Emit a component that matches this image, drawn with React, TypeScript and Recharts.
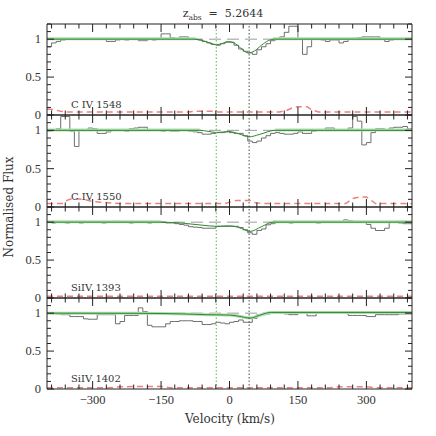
import React from 'react'
import { ComposedChart, Line, XAxis, YAxis, ReferenceLine } from 'recharts'

// flux is binned in 10 km/s steps starting at -400 km/s
const binStart = -400
const binWidth = 10

const civ1548Flux = [
  0.90, 0.95, 0.97, 0.99, 1.00, 1.01, 1.00, 1.01, 1.00, 1.01,
  1.01, 1.00, 1.01, 0.97, 0.97, 0.99, 1.00, 0.99, 1.01, 1.00,
  0.98, 0.98, 1.00, 0.99, 1.01, 1.07, 1.07, 1.02, 1.01, 1.03,
  1.03, 1.00, 1.00, 0.99, 0.97, 0.95, 0.93, 0.92, 0.94, 0.96,
  0.96, 0.92, 0.87, 0.84, 0.82, 0.80, 0.86, 0.90, 0.94, 0.98,
  1.00, 1.03, 1.09, 1.17, 1.17, 1.00, 0.80, 0.90, 1.00, 1.00,
  0.99, 0.97, 0.99, 0.99, 0.95, 0.97, 1.00, 1.01, 1.02, 1.03,
  1.03, 1.03, 1.03, 1.00, 0.97, 0.99, 1.00, 1.00, 1.00, 1.01,
]
const civ1550Flux = [
  0.99, 1.01, 1.02, 1.18, 1.18, 0.99, 0.79, 1.00, 1.01, 1.03,
  1.02, 0.96, 0.96, 0.98, 1.00, 1.01, 1.00, 0.99, 1.02, 1.03,
  1.04, 1.04, 1.00, 1.01, 1.00, 0.99, 1.00, 0.99, 0.99, 1.00,
  1.00, 0.99, 0.98, 0.97, 0.95, 0.95, 0.96, 0.97, 0.97, 0.98,
  0.97, 0.96, 0.96, 0.93, 0.86, 0.84, 0.86, 0.90, 0.93, 0.96,
  0.97, 0.96, 0.95, 0.95, 0.96, 0.98, 0.96, 0.96, 0.99, 1.00,
  1.01, 1.03, 1.03, 1.00, 1.00, 1.00, 1.03, 1.18, 1.12, 0.81,
  0.84, 0.97, 1.02, 1.02, 1.00, 1.03, 1.04, 1.04, 1.05, 1.02,
]
const siiv1393Flux = [
  1.00, 0.99, 1.00, 1.00, 0.99, 1.00, 1.00, 0.99, 1.00, 1.00,
  1.00, 1.00, 0.99, 1.00, 1.00, 1.01, 1.00, 1.00, 0.99, 1.00,
  1.00, 1.00, 0.99, 1.00, 1.00, 1.00, 0.99, 0.99, 0.98, 0.97,
  0.96, 0.94, 0.935, 0.93, 0.92, 0.92, 0.92, 0.945, 0.945, 0.945,
  0.945, 0.945, 0.93, 0.90, 0.86, 0.84, 0.89, 0.91, 0.965, 0.98,
  1.00, 1.00, 1.00, 0.99, 1.00, 1.00, 1.00, 1.00, 1.00, 0.99,
  1.00, 1.00, 1.00, 1.00, 1.00, 1.03, 1.02, 1.00, 1.00, 1.00,
  0.97, 0.92, 0.89, 0.89, 0.92, 1.00, 1.00, 0.99, 0.98, 0.98,
]
const siiv1402Flux = [
  1.00, 1.00, 0.99, 0.98, 0.98, 0.955, 0.955, 0.955, 0.925, 0.92,
  0.92, 0.98, 0.98, 0.98, 0.98, 0.86, 0.89, 0.97, 0.97, 0.97,
  1.07, 1.02, 0.84, 0.82, 0.82, 0.82, 0.86, 0.89, 0.89, 0.90,
  0.90, 0.90, 0.89, 0.89, 0.85, 0.85, 0.86, 0.88, 0.87, 0.86,
  0.88, 0.89, 0.91, 0.88, 0.88, 0.93, 0.98, 0.98, 0.99, 1.01,
  1.00, 1.00, 0.99, 0.98, 0.98, 1.00, 1.00, 0.965, 0.965, 1.00,
  1.00, 1.00, 1.00, 1.00, 1.00, 1.00, 0.97, 0.97, 0.97, 0.97,
  0.955, 0.955, 0.98, 0.98, 0.98, 0.98, 0.98, 0.99, 0.99, 0.99,
]

// voigt profile fits (knots)
const civ1548FitV = [-400, -80, -65, -50, -38, -28, -15, -3, 10, 25, 41, 55, 70, 85, 100, 400]
const civ1548Fit = [1, 1, 0.99, 0.965, 0.94, 0.926, 0.945, 0.968, 0.95, 0.88, 0.818, 0.845, 0.92, 0.98, 1, 1]
const civ1550FitV = [-400, -65, -45, -30, -15, -2, 20, 43, 65, 100, 400]
const civ1550Fit = [1, 1, 0.985, 0.972, 0.978, 0.985, 0.955, 0.915, 0.945, 1, 1]
const siiv1393FitV = [-400, -150, -100, -60, -28, 0, 20, 45, 70, 95, 400]
const siiv1393Fit = [1, 1, 0.985, 0.96, 0.945, 0.952, 0.93, 0.878, 0.94, 1, 1]
const siiv1402FitV = [-400, -200, -100, -50, 0, 20, 45, 65, 90, 400]
const siiv1402Fit = [1, 0.998, 0.99, 0.98, 0.975, 0.96, 0.935, 0.97, 1.01, 1.01]

// light continuum band (broken over the absorption)
const civ1548BandV = [-400, -75, -74, 95, 400]
const civ1548Band = [1.005, 1.005, null, 1.005, 1.005]
const civ1550BandV = [-400, -65, -64, 100, 400]
const civ1550Band = [1.005, 1.005, null, 1.005, 1.005]
const siiv1393BandV = [-400, -150, -149, 95, 400]
const siiv1393Band = [1.005, 1.005, null, 1.005, 1.005]

// 1 sigma error
const civ1548ErrV = [-400, -385, -370, -355, -90, -75, -40, -25, 110, 125, 140, 150, 170, 180, 195, 400]
const civ1548Err = [0.08, 0.07, 0.05, 0.04, 0.04, 0.05, 0.05, 0.04, 0.04, 0.06, 0.1, 0.11, 0.11, 0.07, 0.04, 0.04]
const civ1550ErrV = [-400, -365, -355, -345, -320, -300, -240, -10, 5, 15, 45, 55, 70, 255, 270, 285, 300, 310, 320, 400]
const civ1550Err = [0.045, 0.045, 0.09, 0.11, 0.1, 0.07, 0.045, 0.045, 0.07, 0.085, 0.085, 0.06, 0.045, 0.045, 0.11, 0.13, 0.13, 0.09, 0.045, 0.045]
const siiv1393ErrV = [-400, 400]
const siiv1393Err = [0.022, 0.022]
const siiv1402ErrV = [-400, -260, -240, -150, -130, 220, 240, 300, 320, 400]
const siiv1402Err = [0.015, 0.015, 0.03, 0.035, 0.015, 0.015, 0.03, 0.03, 0.015, 0.015]

const componentVel = [-29, 43]
const velTicks = [
  -390, -360, -330, -300, -270, -240, -210, -180, -150, -120, -90, -60, -30,
  0, 30, 60, 90, 120, 150, 180, 210, 240, 270, 300, 330, 360, 390,
]
const velMajor = [-300, -150, 0, 150, 300]
const fluxTicks = [0, 0.1, 0.2, 0.3, 0.4, 0.5, 0.6, 0.7, 0.8, 0.9, 1, 1.1, 1.2]
const fluxMajor = [0, 0.5, 1]

const zip = (v: number[], y: (number | null)[]) => v.map((x, i) => ({ v: x, y: y[i] }))
const binned = (f: number[]) =>
  [...f, f[f.length - 1]].map((y, i) => ({ v: binStart + i * binWidth, y }))

const panels = [
  { label: 'C IV 1548', flux: civ1548Flux, fit: zip(civ1548FitV, civ1548Fit), band: zip(civ1548BandV, civ1548Band), err: zip(civ1548ErrV, civ1548Err) },
  { label: 'C IV 1550', flux: civ1550Flux, fit: zip(civ1550FitV, civ1550Fit), band: zip(civ1550BandV, civ1550Band), err: zip(civ1550ErrV, civ1550Err) },
  { label: 'SiIV 1393', flux: siiv1393Flux, fit: zip(siiv1393FitV, siiv1393Fit), band: zip(siiv1393BandV, siiv1393Band), err: zip(siiv1393ErrV, siiv1393Err) },
  { label: 'SiIV 1402', flux: siiv1402Flux, fit: zip(siiv1402FitV, siiv1402Fit), band: zip(siiv1402FitV, siiv1402Fit), err: zip(siiv1402ErrV, siiv1402Err) },
]

const W = 436
const LEFT = 47
const RIGHT = 24
const PLOT_W = W - LEFT - RIGHT
const PAD = 10
const panelTops = [24, 115, 207, 298]
const panelHeights = [91, 92, 91, 91]
const FRAME = '#222'
const TEXT = '#333'
const tickFont = 'Liberation Serif, serif'
const labelFont = 'DejaVu Serif, serif'

const fmtVel = (v: number) => (v < 0 ? `\u2212${-v}` : `${v}`)

function XTick({ x, y, payload, h, labels }: any) {
  const v = payload.value
  const major = velMajor.includes(v)
  const len = major ? 8 : 4.5
  return (
    <g>
      <line x1={x} y1={y} x2={x} y2={y - len} stroke={FRAME} />
      <line x1={x} y1={y - h} x2={x} y2={y - h + len} stroke={FRAME} />
      {labels && major && (
        <text x={x} y={y + 15} textAnchor="middle" fill={TEXT} fontSize={12.5} fontFamily={tickFont}>
          {fmtVel(v)}
        </text>
      )}
    </g>
  )
}

function YTick({ x, y, payload }: any) {
  const v = payload.value
  const major = fluxMajor.includes(v)
  const len = major ? 7 : 4
  return (
    <g>
      <line x1={x} y1={y} x2={x + len} y2={y} stroke={FRAME} />
      <line x1={x + PLOT_W} y1={y} x2={x + PLOT_W - len} y2={y} stroke={FRAME} />
      {major && (
        <text x={x - 6} y={y} textAnchor="end" dominantBaseline="central" fill={TEXT} fontSize={12.5} fontFamily={tickFont}>
          {v}
        </text>
      )}
    </g>
  )
}

function Panel({ idx }: { idx: number }) {
  const p = panels[idx]
  const h = panelHeights[idx]
  const last = idx === panels.length - 1
  const extra = last ? 16 : 0
  return (
    <div style={{ position: 'absolute', left: 0, top: panelTops[idx] - PAD }}>
      <ComposedChart
        width={W}
        height={h + 2 * PAD + extra}
        margin={{ top: PAD, right: RIGHT, bottom: PAD + extra, left: LEFT }}
      >
        <XAxis
          type="number"
          dataKey="v"
          domain={[-400, 400]}
          ticks={velTicks}
          interval={0}
          allowDataOverflow
          mirror
          tickSize={0}
          tickMargin={0}
          tickLine={false}
          axisLine={{ stroke: FRAME }}
          tick={(props: any) => <XTick {...props} h={h} labels={last} />}
        />
        <YAxis
          type="number"
          domain={[0, 1.2]}
          ticks={fluxTicks}
          interval={0}
          allowDataOverflow
          mirror
          tickSize={0}
          tickMargin={0}
          tickLine={false}
          axisLine={{ stroke: FRAME }}
          tick={(props: any) => <YTick {...props} />}
        />
        <ReferenceLine y={1} stroke="#9a9a9a" strokeDasharray="12 6" />
        <Line data={p.err} dataKey="y" type="linear" stroke="#ee8080" strokeWidth={1.5} strokeDasharray="6 4" dot={false} isAnimationActive={false} />
        <Line data={binned(p.flux)} dataKey="y" type="stepAfter" stroke="#6e6e6e" strokeWidth={1} dot={false} isAnimationActive={false} />
        <Line data={p.band} dataKey="y" type="monotone" stroke="#b3dcb3" strokeWidth={3} dot={false} isAnimationActive={false} />
        <Line data={p.fit} dataKey="y" type="monotone" stroke="#2a8a2a" strokeWidth={1} dot={false} isAnimationActive={false} />
        <ReferenceLine x={componentVel[0]} stroke="#66bb66" strokeWidth={1.1} strokeDasharray="1.5 2" />
        <ReferenceLine x={componentVel[1]} stroke="#3a5a3a" strokeWidth={1} strokeDasharray="1.5 2" />
        <ReferenceLine y={1.2} stroke={FRAME} />
        <ReferenceLine x={400} stroke={FRAME} />
      </ComposedChart>
      <svg
        width={W}
        height={h + 2 * PAD}
        style={{ position: 'absolute', left: 0, top: 0, pointerEvents: 'none' }}
      >
        <text x={LEFT + 24} y={PAD + h - 7} fill={TEXT} fontSize={10} fontFamily={labelFont}>
          {p.label}
        </text>
      </svg>
    </div>
  )
}

export default function App() {
  return (
    <div style={{ position: 'absolute', left: 0, top: 0, width: W, height: W, background: '#fff' }}>
      {panels.map((_, i) => (
        <Panel key={i} idx={i} />
      ))}
      <svg width={W} height={W} style={{ position: 'absolute', left: 0, top: 0, pointerEvents: 'none' }}>
        <text x={223} y={17} textAnchor="middle" fill={TEXT} fontSize={11} fontFamily={labelFont} style={{ whiteSpace: 'pre' }}>
          z<tspan fontSize={7.5} dy={3}>abs</tspan>
          <tspan dy={-3}>{'  =  5.2644'}</tspan>
        </text>
        <text
          x={12.5}
          y={207}
          transform="rotate(-90, 12.5, 207)"
          textAnchor="middle"
          fill={TEXT}
          fontSize={12}
          fontFamily={labelFont}
        >
          Normalised Flux
        </text>
        <text x={230} y={423} textAnchor="middle" fill={TEXT} fontSize={12} fontFamily={labelFont}>
          Velocity (km/s)
        </text>
      </svg>
    </div>
  )
}
